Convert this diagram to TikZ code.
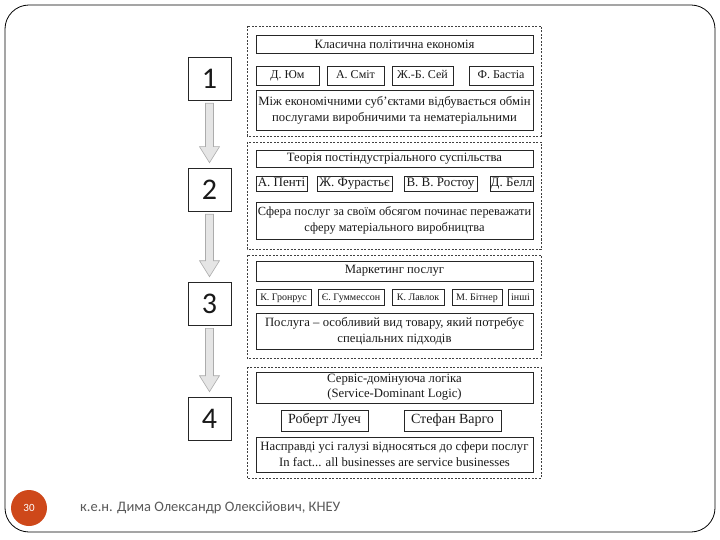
\documentclass[tikz,border=0pt]{standalone}
\usepackage{fontspec}
\setmainfont{Liberation Serif}
\newfontfamily\slidefont{Carlito}
\usetikzlibrary{calc}

\definecolor{page orange}{RGB}{206,72,26}
\tikzstyle{stage frame}=[dash pattern=on 2pt off 1.5pt, line width=0.6pt, black!75]
\tikzstyle{box}=[draw=black!85, line width=0.6pt, inner sep=0pt, text=black!90]
\tikzstyle{head}=[box, align=center, minimum width=277pt, font=\fontsize{12.7}{15}\selectfont]
\tikzstyle{claim}=[box, align=center, minimum width=277pt, font=\fontsize{12.7}{16}\selectfont]
\tikzstyle{person}=[box, font=\fontsize{12}{13}\selectfont, text height=0.66em, text depth=0pt]
\tikzstyle{number}=[box, minimum width=43pt, minimum height=43pt, font=\slidefont\fontsize{30}{30}\selectfont]
\tikzstyle{stage arrow}=[draw=gray!65, fill=gray!20, line width=0.6pt]

\begin{document}
\begin{tikzpicture}[x=1pt, y=-1pt]
	\useasboundingbox (0,0) rectangle (720,540);
	% Slide border
	\draw[line width=0.8pt, rounded corners=24pt] (5,5) rectangle (715,532);

	% Stage 1
	\draw[stage frame] (247,26) rectangle (541,136);
	\node[head, minimum height=18pt] (head1) at (394.5,44) {Класична політична економія};
	\node[person, minimum width=63pt, minimum height=19pt] (hume) at (287.5,75.5) {Д. Юм};
	\node[person, minimum width=57pt, minimum height=19pt] (smith) at (355.5,75.5) {А. Сміт};
	\node[person, minimum width=61pt, minimum height=19pt] (say) at (422.5,75.5) {Ж.-Б. Сей};
	\node[person, minimum width=64pt, minimum height=19pt] (bastiat) at (501,75.5) {Ф. Бастіа};
	\node[claim, minimum height=40pt] (claim1) at (394.5,110) {Між економічними суб’єктами відбувається обмін\\послугами виробничими та нематеріальними};

	% Stage 2
	\draw[stage frame] (247,142) rectangle (541,249);
	\node[head, minimum height=17pt] (head2) at (394.5,158.5) {Теорія постіндустріального суспільства};
	\node[person, font=\fontsize{13}{14}\selectfont, minimum width=51pt, minimum height=15pt] (penty) at (281.5,183.5) {А. Пенті};
	\node[person, font=\fontsize{13}{14}\selectfont, minimum width=75pt, minimum height=15pt] (fourastie) at (354.5,183.5) {Ж. Фурастьє};
	\node[person, font=\fontsize{13}{14}\selectfont, minimum width=73pt, minimum height=15pt] (rostow) at (440.5,183.5) {В. В. Ростоу};
	\node[person, font=\fontsize{13}{14}\selectfont, minimum width=43pt, minimum height=15pt] (bell) at (511.5,183.5) {Д. Белл};
	\node[claim, font=\fontsize{12.4}{16}\selectfont, minimum height=37pt] (claim2) at (394.5,220.5) {Сфера послуг за своїм обсягом починає переважати\\сферу матеріального виробництва};

	% Stage 3
	\draw[stage frame] (247,255) rectangle (541,358);
	\node[head, minimum height=20pt] (head3) at (394.5,271) {Маркетинг послуг};
	\node[person, font=\fontsize{10}{12}\selectfont, minimum width=55pt, minimum height=16pt] (gronroos) at (283.5,297) {К. Гронрус};
	\node[person, font=\fontsize{10}{12}\selectfont, minimum width=66pt, minimum height=16pt] (gummesson) at (351,297) {Є. Гуммессон};
	\node[person, font=\fontsize{10}{12}\selectfont, minimum width=52pt, minimum height=16pt] (lovelock) at (418,297) {К. Лавлок};
	\node[person, font=\fontsize{10}{12}\selectfont, minimum width=50pt, minimum height=16pt] (bitner) at (477,297) {М. Бітнер};
	\node[person, font=\fontsize{10}{12}\selectfont, minimum width=25pt, minimum height=16pt] (others) at (520.5,297) {інші};
	\node[claim, minimum height=36pt] (claim3) at (394.5,331) {Послуга – особливий вид товару, який потребує\\спеціальних підходів};

	% Stage 4
	\draw[stage frame] (247,367) rectangle (541,478);
	\node[head, minimum height=31pt] (head4) at (394.5,387.5) {Сервіс-домінуюча логіка\\(Service-Dominant Logic)};
	\node[person, font=\fontsize{14}{15}\selectfont, minimum width=87pt, minimum height=21pt] (lusch) at (324.5,420.5) {Роберт Луеч};
	\node[person, font=\fontsize{14}{15}\selectfont, minimum width=97pt, minimum height=21pt] (vargo) at (452.5,420.5) {Стефан Варго};
	\node[claim, minimum height=35pt] (claim4) at (394.5,454.5) {Насправді усі галузі відносяться до сфери послуг\\In fact... all businesses are service businesses};

	% Stage numbers
	\node[number] (n1) at (209.5,78.5) {1};
	\node[number] (n2) at (209.5,189.5) {2};
	\node[number] (n3) at (209.5,303.5) {3};
	\node[number] (n4) at (209.5,418.5) {4};
	\foreach \a/\b in {n1/n2, n2/n3, n3/n4}{
		\draw[stage arrow] ($(\a.south)+(-4,3)$) -- ($(\a.south)+(4,3)$) -- ($(\b.north)+(4,-21)$) -- ($(\b.north)+(10,-21)$) -- ($(\b.north)+(0,-5)$) -- ($(\b.north)+(-10,-21)$) -- ($(\b.north)+(-4,-21)$) -- cycle;
	}

	% Footer
	\node[circle, fill=page orange, minimum size=36pt, inner sep=0pt, text=white, font=\slidefont\fontsize{11}{11}\selectfont] (page) at (29,508) {30};
	\node[anchor=west, inner sep=0pt, text=black!65, font=\slidefont\fontsize{14.5}{14.5}\selectfont] (author) at (80,508) {к.е.н. Дима Олександр Олексійович, КНЕУ};
\end{tikzpicture}
\end{document}
